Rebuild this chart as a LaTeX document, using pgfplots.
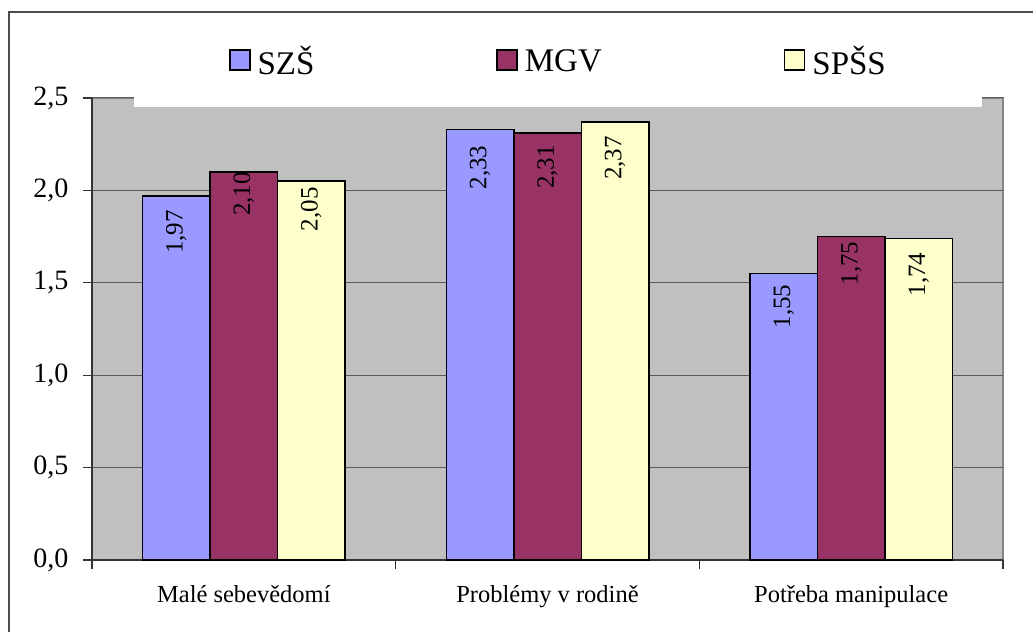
\documentclass[border=0pt]{standalone}
\usepackage{pgfplots}
\usepackage{pgfplotstable}
\pgfplotsset{compat=1.18}
\usepackage{fontspec}
\setmainfont{Liberation Serif}

\definecolor{szs}{HTML}{9999FF}
\definecolor{mgv}{HTML}{993366}
\definecolor{spss}{HTML}{FFFFCC}
\definecolor{plotbg}{HTML}{C0C0C0}
\definecolor{gridc}{HTML}{5A5A5A}
\definecolor{framec}{HTML}{858585}

% x = category, y = value, off = label centre below bar top (px)
\pgfplotstableread{
x y off
0 1.97 36
1 2.33 38
2 1.55 33
}\szsdata
\pgfplotstableread{
x y off
0 2.10 22
1 2.31 34
2 1.75 27
}\mgvdata
\pgfplotstableread{
x y off
0 2.05 28
1 2.37 36
2 1.74 36
}\spssdata

\begin{document}
\begin{tikzpicture}
\useasboundingbox (0,0) rectangle (1033pt,632pt);
\draw[black!70, line width=1.5pt] (9pt,0) -- (9pt,620pt) -- (1033pt,620pt);
\begin{axis}[
  at={(92pt,72pt)}, anchor=south west,
  scale only axis, width=911pt, height=462pt,
  ybar=0pt, bar width=67.5pt,
  xmin=-0.5, xmax=2.5, ymin=0, ymax=2.5,
  clip=false,
  axis x line*=bottom, axis y line*=left,
  axis background/.style={fill=plotbg, draw=framec, line width=1.5pt},
  axis line style={black!80, line width=1.2pt},
  tick style={black!80, line width=1.2pt},
  tick align=outside, major tick length=9pt,
  xtick={-0.5,0.5,1.5,2.5}, xticklabels={},
  extra x ticks={0,1,2},
  extra x tick labels={Malé sebevědomí, Problémy v rodině, Potřeba manipulace},
  extra x tick style={major tick length=0pt, grid=none,
    tick label style={font=\fontsize{24.5}{28}\selectfont, yshift=-22pt}},
  ytick={0,0.5,1,1.5,2,2.5},
  ymajorgrids, grid style={gridc, line width=1pt},
  yticklabel style={font=\fontsize{28}{32}\selectfont, xshift=-11pt,
    /pgf/number format/.cd, fixed, fixed zerofill, precision=1, use comma, assume math mode=true},
  visualization depends on={\thisrow{off} \as \labeloff},
  nodes near coords={\pgfmathprintnumber[fixed,fixed zerofill,precision=2,use comma,assume math mode=true]{\pgfplotspointmeta}},
  every node near coord/.append style={font=\fontsize{25}{28}\selectfont, black,
    anchor=center, yshift=-\labeloff pt, rotate=90},
  legend columns=3,
  legend style={draw=none, fill=none, at={(axis description cs:0.512,1.08)}, anchor=center,
    font=\fontsize{33}{38}\selectfont,
    /tikz/every odd column/.append style={column sep=5pt},
    /tikz/every even column/.append style={column sep=180pt}},
  legend image code/.code={\draw[#1, draw=black, line width=1.5pt] (0pt,-9pt) rectangle (20pt,11pt);},
]
\addplot[fill=szs, draw=black, line width=1.5pt] table[x=x, y=y] {\szsdata};
\addplot[fill=mgv, draw=black, line width=1.5pt] table[x=x, y=y] {\mgvdata};
\addplot[fill=spss, draw=black, line width=1.5pt] table[x=x, y=y] {\spssdata};
\fill[white] (axis description cs:0.0461,0.9805) rectangle (axis description cs:0.977,1.182);
\legend{SZŠ, MGV, SPŠS}
\end{axis}
\end{tikzpicture}
\end{document}
